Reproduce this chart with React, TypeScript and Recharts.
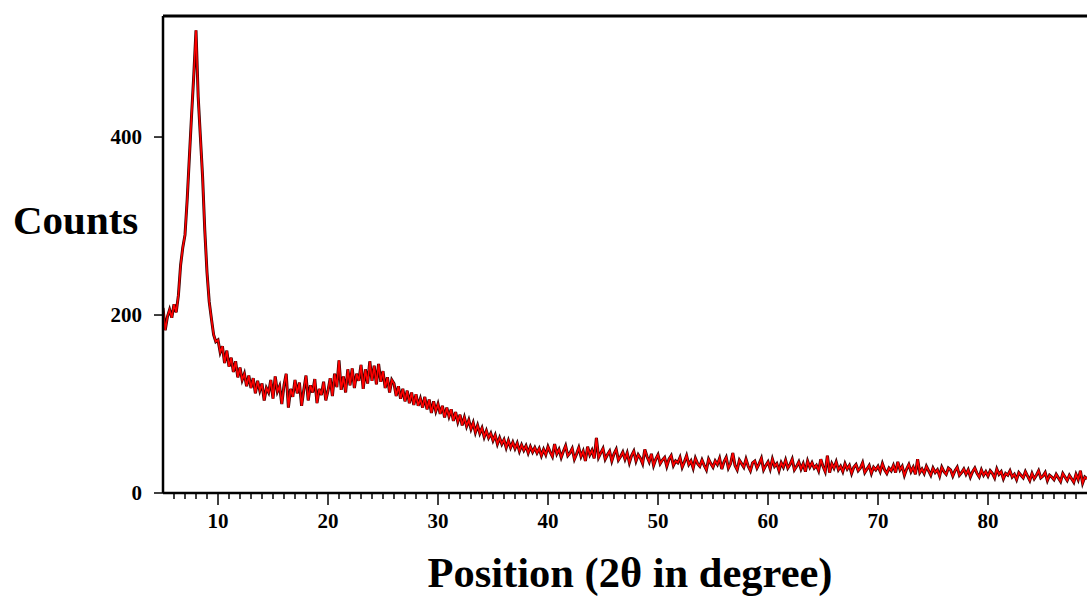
import React from "react";
import { LineChart, Line, XAxis, YAxis, ReferenceLine } from "recharts";

// 2θ sampling of the pattern (degrees)
const thetaStart = 5;
const thetaStep = 0.2;

// counts, one row per degree (5.0 .. 89.0)
const counts: number[] = [
  208, 183, 198, 206, 197, // 5
  212, 203, 222, 256, 276, // 6
  290, 330, 378, 425, 470, // 7
  520, 445, 400, 355, 295, // 8
  248, 215, 196, 178, 170, // 9
  172, 158, 165, 146, 160, // 10
  142, 152, 136, 148, 130, // 11
  141, 127, 134, 120, 132, // 12
  118, 129, 112, 126, 115, // 13
  123, 104, 118, 113, 127, // 14
  106, 131, 114, 120, 100, // 15
  121, 134, 96, 117, 108, // 16
  127, 112, 124, 98, 116, // 17
  132, 104, 121, 113, 128, // 18
  101, 117, 110, 125, 104, // 19
  115, 129, 109, 134, 119, // 20
  149, 116, 131, 113, 139, // 21
  121, 140, 118, 134, 126, // 22
  144, 117, 139, 123, 148, // 23
  126, 143, 122, 145, 125, // 24
  137, 118, 130, 113, 127, // 25
  123, 109, 120, 106, 117, // 26
  103, 115, 101, 113, 99, // 27
  111, 98, 106, 96, 108, // 28
  94, 105, 90, 103, 92, // 29
  100, 89, 98, 85, 96, // 30
  86, 94, 81, 91, 80, // 31
  88, 76, 85, 75, 82, // 32
  72, 79, 68, 76, 67, // 33
  73, 63, 70, 62, 67, // 34
  59, 65, 55, 62, 55, // 35
  60, 51, 59, 51, 57, // 36
  50, 56, 47, 54, 48, // 37
  53, 45, 52, 46, 51, // 38
  45, 50, 42, 49, 43, // 39
  52, 46, 41, 55, 44, // 40
  49, 40, 47, 53, 42, // 41
  45, 50, 38, 44, 51, // 42
  41, 47, 36, 52, 43, // 43
  48, 39, 62, 40, 45, // 44
  50, 38, 43, 47, 36, // 45
  44, 49, 37, 41, 46, // 46
  38, 45, 34, 42, 47, // 47
  36, 43, 39, 33, 49, // 48
  41, 35, 44, 31, 38, // 49
  43, 33, 37, 40, 30, // 50
  38, 42, 31, 36, 34, // 51
  40, 29, 35, 42, 32, // 52
  36, 28, 39, 33, 30, // 53
  37, 31, 26, 38, 33, // 54
  29, 36, 32, 39, 27, // 55
  35, 40, 28, 33, 45, // 56
  31, 26, 37, 33, 29, // 57
  38, 30, 25, 34, 36, // 58
  28, 33, 39, 26, 31, // 59
  35, 27, 38, 30, 33, // 60
  25, 34, 29, 37, 28, // 61
  32, 38, 26, 30, 35, // 62
  27, 33, 24, 36, 29, // 63
  34, 28, 31, 25, 38, // 64
  30, 24, 42, 23, 33, // 65
  28, 35, 26, 30, 24, // 66
  33, 27, 31, 22, 29, // 67
  32, 25, 28, 34, 23, // 68
  27, 31, 22, 29, 26, // 69
  30, 24, 33, 26, 22, // 70
  28, 25, 31, 23, 35, // 71
  26, 30, 20, 27, 32, // 72
  24, 29, 21, 38, 23, // 73
  27, 22, 30, 25, 20, // 74
  28, 23, 26, 19, 29, // 75
  24, 21, 28, 26, 19, // 76
  25, 29, 20, 23, 27, // 77
  21, 26, 18, 24, 28, // 78
  22, 18, 26, 20, 24, // 79
  19, 25, 22, 17, 27, // 80
  21, 24, 16, 22, 20, // 81
  25, 18, 21, 15, 23, // 82
  20, 17, 24, 19, 14, // 83
  22, 16, 20, 25, 17, // 84
  19, 23, 14, 20, 18, // 85
  15, 21, 17, 13, 22, // 86
  18, 14, 20, 16, 12, // 87
  21, 15, 25, 11, 18, // 88
  16, // 89
];

const xMajorTicks = [10, 20, 30, 40, 50, 60, 70, 80];
const yTicks = [0, 200, 400];
const xDomain = [5, 89];
const yMax = 536;

const font = "'Liberation Serif', 'Times New Roman', serif";

const data = counts.map((c, i) => ({
  theta: +(thetaStart + i * thetaStep).toFixed(1),
  counts: c,
}));

// minor tick every degree, major (labelled) every ten
const xTicks: number[] = [];
for (let t = xDomain[0] + 1; t < xDomain[1]; t++) xTicks.push(t);

function XTick(props: any) {
  const { x, y, payload } = props;
  const major = xMajorTicks.includes(payload.value);
  return (
    <g>
      <line x1={x} x2={x} y1={y} y2={y + (major ? 12 : 6)} stroke="#000" strokeWidth={1.5} />
      {major && (
        <text x={x} y={y + 35} textAnchor="middle" fontFamily={font} fontWeight="bold" fontSize={21} fill="#000">
          {payload.value}
        </text>
      )}
    </g>
  );
}

export default function App() {
  return (
    <div style={{ position: "absolute", left: 0, top: 0, width: 1087, height: 596, background: "#fff" }}>
      <LineChart width={1087} height={596} data={data} margin={{ top: 16, right: 0, left: 103, bottom: 0 }}>
        <XAxis
          type="number"
          dataKey="theta"
          domain={xDomain}
          allowDataOverflow
          ticks={xTicks}
          interval={0}
          height={103}
          tickSize={0}
          tickMargin={0}
          tick={<XTick />}
          axisLine={{ stroke: "#000", strokeWidth: 2.5 }}
        />
        <YAxis
          type="number"
          domain={[0, yMax]}
          allowDataOverflow
          ticks={yTicks}
          width={60}
          tickSize={9}
          tickMargin={12}
          tickLine={{ stroke: "#000", strokeWidth: 1.5 }}
          axisLine={{ stroke: "#000", strokeWidth: 2.5 }}
          tick={{ fontFamily: font, fontWeight: "bold", fontSize: 21, fill: "#000" }}
        />
        <ReferenceLine y={yMax} stroke="#000" strokeWidth={3} />
        <Line
          type="linear"
          dataKey="counts"
          stroke="#3a0000"
          strokeWidth={3}
          dot={false}
          isAnimationActive={false}
        />
        <Line
          type="linear"
          dataKey="counts"
          stroke="#ff0000"
          strokeWidth={1.6}
          dot={false}
          isAnimationActive={false}
        />
      </LineChart>
      <svg width={1087} height={596} style={{ position: "absolute", left: 0, top: 0, pointerEvents: "none" }}>
        <text x={13} y={234} fontFamily={font} fontWeight="bold" fontSize={41} fill="#000">
          Counts
        </text>
        <text x={630} y={587} textAnchor="middle" fontFamily={font} fontWeight="bold" fontSize={42.5} fill="#000">
          Position (2θ in degree)
        </text>
      </svg>
    </div>
  );
}
